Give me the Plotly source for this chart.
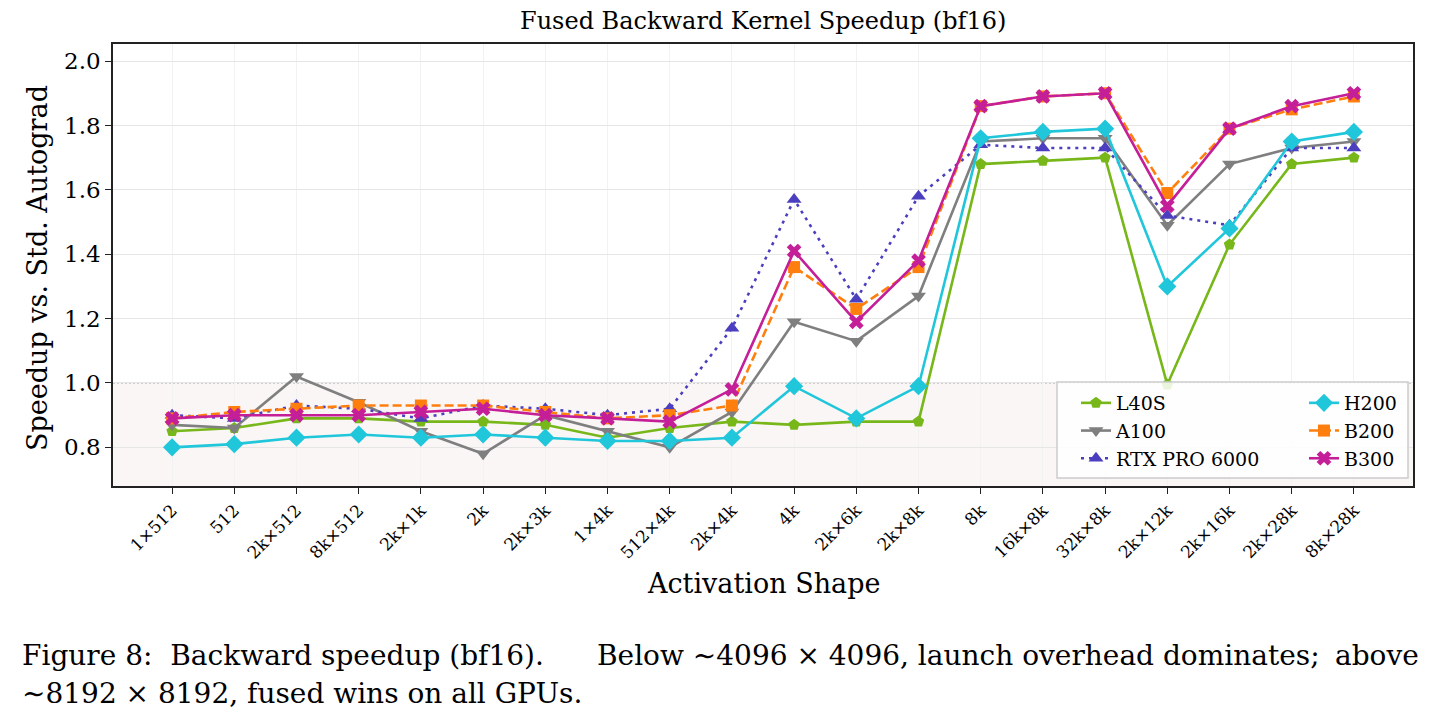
import plotly.graph_objects as go

categories = ["1×512", "512", "2k×512", "8k×512", "2k×1k", "2k", "2k×3k", "1×4k", "512×4k", "2k×4k",
              "4k", "2k×6k", "2k×8k", "8k", "16k×8k", "32k×8k", "2k×12k", "2k×16k", "2k×28k", "8k×28k"]

l40s = [0.85, 0.86, 0.89, 0.89, 0.88, 0.88, 0.87, 0.83, 0.86, 0.88, 0.87, 0.88, 0.88, 1.68, 1.69, 1.70, 0.995, 1.43, 1.68, 1.70]
a100 = [0.87, 0.86, 1.02, 0.94, 0.85, 0.78, 0.90, 0.85, 0.80, 0.91, 1.19, 1.13, 1.27, 1.75, 1.76, 1.76, 1.49, 1.68, 1.73, 1.75]
rtx = [0.90, 0.89, 0.93, 0.92, 0.89, 0.93, 0.92, 0.90, 0.92, 1.17, 1.57, 1.26, 1.58, 1.74, 1.73, 1.73, 1.52, 1.49, 1.73, 1.73]
h200 = [0.80, 0.81, 0.83, 0.84, 0.83, 0.84, 0.83, 0.82, 0.82, 0.83, 0.99, 0.89, 0.99, 1.76, 1.78, 1.79, 1.30, 1.48, 1.75, 1.78]
b200 = [0.89, 0.91, 0.92, 0.93, 0.93, 0.93, 0.91, 0.89, 0.90, 0.93, 1.36, 1.23, 1.36, 1.86, 1.89, 1.90, 1.59, 1.79, 1.85, 1.89]
b300 = [0.89, 0.90, 0.90, 0.90, 0.91, 0.92, 0.90, 0.89, 0.88, 0.98, 1.41, 1.19, 1.38, 1.86, 1.89, 1.90, 1.55, 1.79, 1.86, 1.90]

y_ticks = [0.8, 1.0, 1.2, 1.4, 1.6, 1.8, 2.0]
y_tick_labels = ["0.8", "1.0", "1.2", "1.4", "1.6", "1.8", "2.0"]

title_text = "Fused Backward Kernel Speedup (bf16)"
x_title = "Activation Shape"
y_title = "Speedup vs. Std. Autograd"
caption1a = "Figure 8:  Backward speedup (bf16)."
caption1b = "Below ∼4096 × 4096, launch overhead dominates;"
caption1c = "above"
caption2 = "∼8192 × 8192, fused wins on all GPUs."

W, H = 1437, 727
L, R, T, B = 113, 1413, 44, 486
FONT = "DejaVu Serif"

def px(xp):
    return (xp - L) / (R - L)

def py(yp):
    return (B - yp) / (B - T)

series = [
    ("L40S", l40s, "#78b71a", "pentagon", "solid", 12, "legend"),
    ("A100", a100, "#7f7f7f", "triangle-down", "solid", 13, "legend"),
    ("RTX PRO 6000", rtx, "#4b3fbf", "triangle-up", "3px,5px", 13, "legend"),
    ("H200", h200, "#20c6da", "diamond", "solid", 14, "legend2"),
    ("B200", b200, "#ff7f0e", "square", "9px,4px", 12, "legend2"),
    ("B300", b300, "#c41e98", "x", "solid", 13, "legend2"),
]

fig = go.Figure()
for name, vals, color, sym, dash, msize, lg in series:
    fig.add_trace(go.Scatter(
        x=list(range(len(categories))), y=vals, mode="lines+markers", name=name,
        line=dict(color=color, width=2.6, dash=dash),
        marker=dict(symbol=sym, size=msize, color=color, line=dict(width=0)),
        legend=lg,
    ))

ymin, ymax = 0.68, 2.053
fig.add_shape(type="rect", xref="paper", yref="y", x0=0, x1=1, y0=ymin, y1=1.0,
              fillcolor="#faf6f5", line=dict(width=0), layer="below")
fig.add_shape(type="line", xref="paper", yref="y", x0=0, x1=1, y0=1.0, y1=1.0,
              line=dict(color="#a8a8a8", width=1.2, dash="2px,2px"), layer="below")
fig.add_shape(type="rect", xref="paper", yref="paper", x0=px(1057), x1=px(1408), y0=py(478), y1=py(382),
              fillcolor="rgba(255,255,255,0.85)", line=dict(color="#cccccc", width=1.5), layer="above")

fig.update_layout(
    width=W, height=H,
    margin=dict(l=L, r=W - R, t=T, b=H - B),
    paper_bgcolor="white", plot_bgcolor="white",
    font=dict(family=FONT, color="black"),
    showlegend=True,
    legend=dict(x=px(1076), y=py(384), xanchor="left", yanchor="top", bgcolor="rgba(0,0,0,0)",
                font=dict(size=19, family=FONT), itemwidth=30, tracegroupgap=0),
    legend2=dict(x=px(1304), y=py(384), xanchor="left", yanchor="top", bgcolor="rgba(0,0,0,0)",
                 font=dict(size=19, family=FONT), itemwidth=30, tracegroupgap=0),
    xaxis=dict(
        range=[-0.95, 19.95], tickmode="array", tickvals=list(range(len(categories))), ticktext=categories,
        tickangle=-45, tickfont=dict(size=17, family=FONT), ticks="outside", ticklen=6, tickwidth=1.2,
        tickcolor="#222", showline=True, linecolor="#222", linewidth=1.6, mirror=True,
        showgrid=True, gridcolor="#f2f2f2", gridwidth=1, zeroline=False,
    ),
    yaxis=dict(
        range=[ymin, ymax], tickmode="array", tickvals=y_ticks, ticktext=y_tick_labels,
        tickfont=dict(size=23, family=FONT), ticks="outside", ticklen=6, tickwidth=1.2,
        tickcolor="#222", showline=True, linecolor="#222", linewidth=1.6, mirror=True,
        showgrid=True, gridcolor="#e6e6e6", gridwidth=1, zeroline=False,
    ),
    annotations=[
        dict(text=title_text, xref="paper", yref="paper", x=0.5, y=py(21), xanchor="center", yanchor="middle",
             showarrow=False, font=dict(size=24, family=FONT)),
        dict(text=x_title, xref="paper", yref="paper", x=0.5, y=py(583), xanchor="center", yanchor="middle",
             showarrow=False, font=dict(size=27, family=FONT)),
        dict(text=y_title, xref="paper", yref="paper", x=px(37), y=py(268), xanchor="center", yanchor="middle",
             textangle=-90, showarrow=False, font=dict(size=27, family=FONT)),
        dict(text=caption1a, xref="paper", yref="paper", x=px(20), y=py(655), xanchor="left", yanchor="middle",
             showarrow=False, font=dict(size=28, family=FONT)),
        dict(text=caption1b, xref="paper", yref="paper", x=px(1322), y=py(655), xanchor="right", yanchor="middle",
             showarrow=False, font=dict(size=28, family=FONT)),
        dict(text=caption1c, xref="paper", yref="paper", x=px(1421), y=py(655), xanchor="right", yanchor="middle",
             showarrow=False, font=dict(size=28, family=FONT)),
        dict(text=caption2, xref="paper", yref="paper", x=px(20), y=py(693), xanchor="left", yanchor="middle",
             showarrow=False, font=dict(size=28, family=FONT)),
    ],
)

fig.write_html("out.html")
